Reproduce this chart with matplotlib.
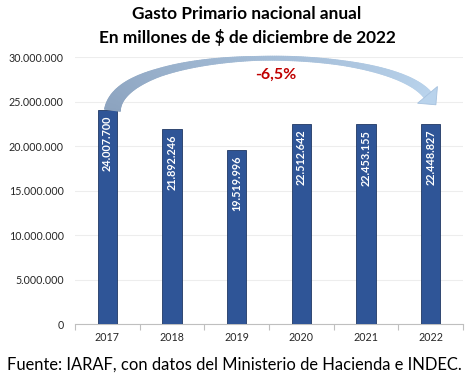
import numpy as np
import matplotlib.pyplot as plt
from matplotlib.collections import PolyCollection
from matplotlib.patches import Polygon
from matplotlib.colors import to_rgb
from matplotlib.ticker import FuncFormatter, FixedLocator

years = ["2017", "2018", "2019", "2020", "2021", "2022"]
gasto = [24007700, 21892246, 19519996, 22512642, 22453155, 22448827]
variacion = "-6,5%"

plt.rcParams["font.family"] = ["Lato", "DejaVu Sans"]

fig = plt.figure(figsize=(4.74, 3.80), dpi=100)
ax = fig.add_axes([0.158, 0.147, 0.819, 0.703])

x = np.arange(len(years))
ax.bar(x, gasto, width=0.3, color="#2F5597", edgecolor="#203864", linewidth=0.6, zorder=3)

def miles(v):
    return f"{int(round(v)):,}".replace(",", ".")

for xi, v in zip(x, gasto):
    ax.annotate(miles(v), (xi, v), xytext=(0, -4), textcoords="offset points",
                rotation=90, ha="center", va="top", color="white",
                fontsize=7.8, fontweight="bold", zorder=4)

ax.set_xlim(-0.5, len(years) - 0.5)
ax.set_ylim(0, 30000000)
ax.set_yticks(np.arange(0, 30000001, 5000000))
ax.yaxis.set_major_formatter(FuncFormatter(lambda v, p: miles(v)))
ax.set_xticks(x)
ax.set_xticklabels(years)
ax.xaxis.set_minor_locator(FixedLocator(np.arange(-0.5, len(years), 1.0)))
ax.tick_params(axis="x", which="major", length=0, labelsize=7.7, pad=6, colors="#262626")
ax.tick_params(axis="x", which="minor", length=4, color="#BFBFBF", width=0.8)
ax.tick_params(axis="y", length=0, labelsize=7.7, pad=8, colors="#262626")
ax.grid(axis="y", color="#EDEDED", linewidth=0.8, zorder=0)
for s in ["left", "right", "top"]:
    ax.spines[s].set_visible(False)
ax.spines["bottom"].set_color("#BFBFBF")
ax.spines["bottom"].set_linewidth(0.8)

# curved arrow from first to last year: tapered band (cubic bezier) built in pixel space
P = np.array([[0.08, gasto[0]], [0.2, 31500000], [4.3, 31500000], [4.95, gasto[-1] + 3300000]])
t = np.linspace(0, 1, 240)[:, None]
curve = ((1 - t) ** 3 * P[0] + 3 * (1 - t) ** 2 * t * P[1]
         + 3 * (1 - t) * t ** 2 * P[2] + t ** 3 * P[3])
pix = ax.transData.transform(curve)
tang = np.gradient(pix, axis=0)
tang = tang / np.linalg.norm(tang, axis=1)[:, None]
nrm = np.stack([-tang[:, 1], tang[:, 0]], axis=1)
half = np.interp(t[:, 0], [0, 0.25, 0.5, 0.7, 1.0], [8.0, 4.0, 2.0, 2.4, 4.5])[:, None]
left = pix + nrm * half
right = pix - nrm * half
inv = ax.transData.inverted()
c0, c1 = np.array(to_rgb("#8CA3BF")), np.array(to_rgb("#B9D3EC"))
quads, cols = [], []
for i in range(len(pix) - 1):
    q = np.array([left[i], left[i + 1], right[i + 1], right[i]])
    quads.append(inv.transform(q))
    f = i / (len(pix) - 2)
    cols.append((1 - f) * c0 + f * c1)
pc = PolyCollection(quads, facecolors=cols, edgecolors=cols, linewidths=0.6,
                    zorder=5, clip_on=False)
ax.add_collection(pc)

end = pix[-1]
d = tang[-1]
n = nrm[-1]
head = np.array([end + n * 13, end + d * 13, end - n * 13])
ax.add_patch(Polygon(inv.transform(head), closed=True, facecolor=c1, edgecolor="#A6C1DE",
                     linewidth=0.6, zorder=5, clip_on=False))

ax.text(2.6, 28000000, variacion, color="#C00000", fontsize=11.5, fontweight="bold",
        ha="center", va="center", zorder=6)

fig.text(0.521, 0.962, "Gasto Primario nacional anual", ha="center", va="center",
         fontsize=12.4, fontweight="bold", color="#000000")
fig.text(0.521, 0.900, "En millones de $ de diciembre de 2022", ha="center", va="center",
         fontsize=12.4, fontweight="bold", color="#000000")
fig.text(0.015, 0.04, "Fuente: IARAF, con datos del Ministerio de Hacienda e INDEC.",
         ha="left", va="center", fontsize=11.9, color="#000000")

fig.savefig("out.png", dpi=100)
